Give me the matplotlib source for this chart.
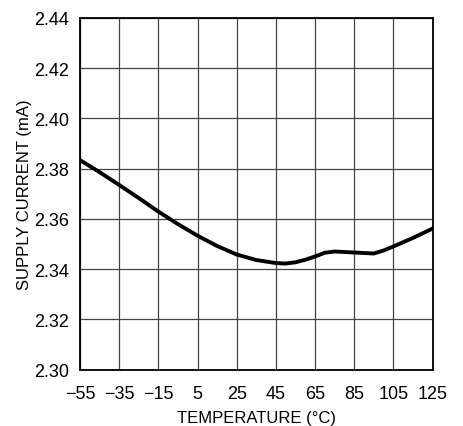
import matplotlib
matplotlib.use('Agg')
import matplotlib.pyplot as plt

plt.rcParams['font.family'] = ['Liberation Sans', 'DejaVu Sans']

temp = [-55, -45, -35, -25, -15, -5, 5, 15, 25, 35, 45, 50, 55, 60, 65, 70, 75, 85, 95, 100, 105, 115, 125]
current = [2.3834, 2.3786, 2.3735, 2.3683, 2.3629, 2.3579, 2.3533, 2.3492, 2.3458, 2.3436,
           2.3424, 2.3422, 2.3427, 2.3437, 2.3450, 2.3465, 2.3470, 2.3466, 2.3462, 2.3474,
           2.3490, 2.3524, 2.3561]
xticks = [-55, -35, -15, 5, 25, 45, 65, 85, 105, 125]
xlabels = ['\u221255', '\u221235', '\u221215', '5', '25', '45', '65', '85', '105', '125']
yticks = [2.30, 2.32, 2.34, 2.36, 2.38, 2.40, 2.42, 2.44]

fig = plt.figure(figsize=(4.63, 4.27), dpi=100)
ax = fig.add_axes([80/463, 1-370.5/427, 352.5/463, 351.5/427])

ax.plot(temp, current, color='black', lw=2.8, solid_joinstyle='round', zorder=3)

ax.set_xlim(-55, 125)
ax.set_ylim(2.30, 2.44)
ax.set_xticks(xticks)
ax.set_xticklabels(xlabels)
ax.set_yticks(yticks)
ax.set_yticklabels(['%.2f' % v for v in yticks])
ax.tick_params(axis='x', length=0, pad=11, labelsize=13)
ax.tick_params(axis='y', length=0, pad=8, labelsize=13)
ax.grid(True, color='#444444', lw=0.9)
for s in ax.spines.values():
    s.set_linewidth(1.3)
    s.set_color('black')

ax.set_xlabel('TEMPERATURE (\u00b0C)', fontsize=12, labelpad=6)
ax.set_ylabel('SUPPLY CURRENT (mA)', fontsize=12, labelpad=1)

fig.savefig('out.png', dpi=100)
